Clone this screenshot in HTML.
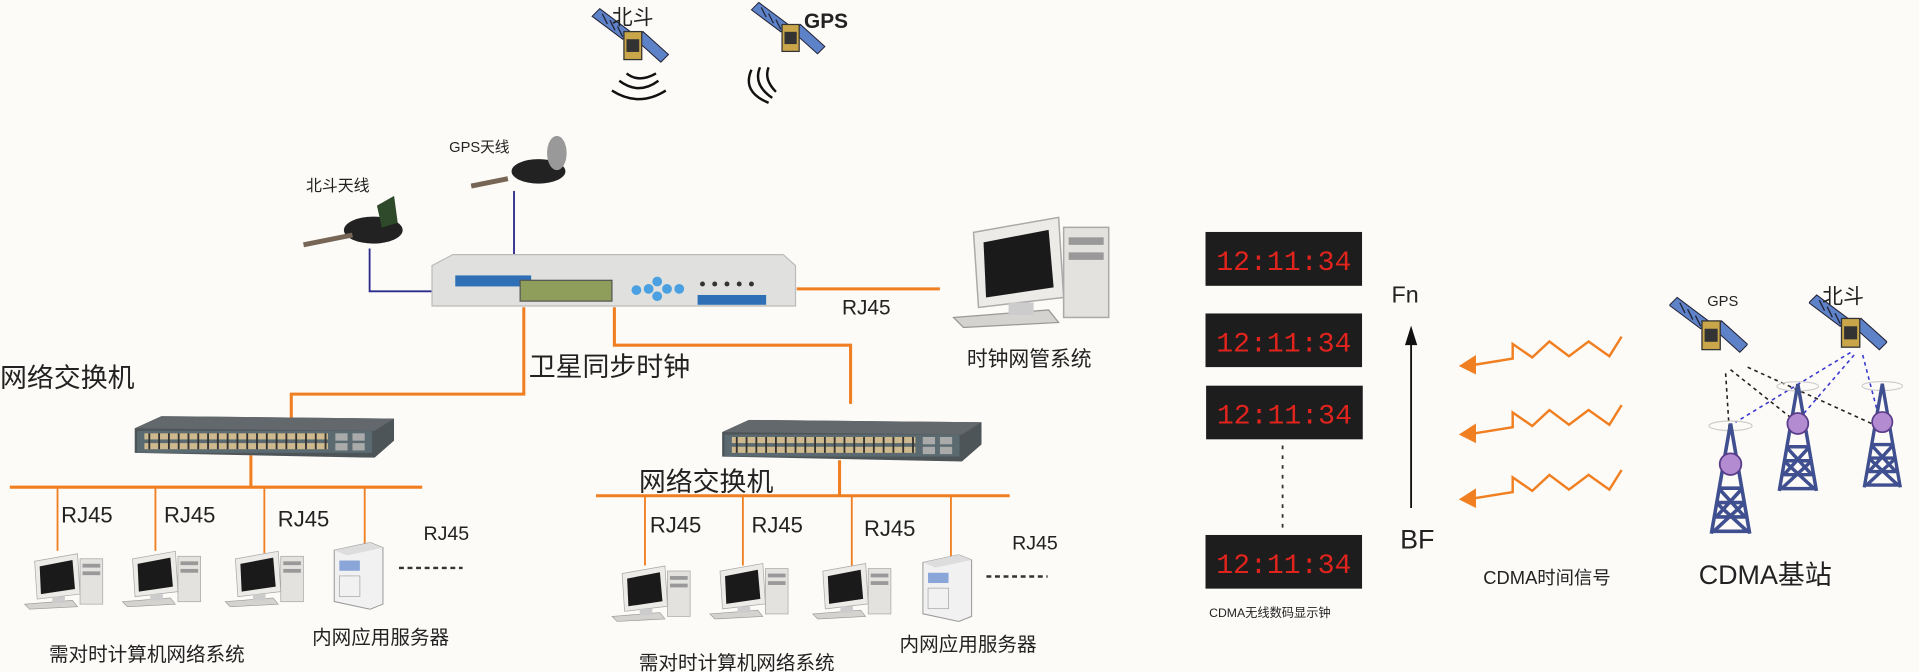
<!DOCTYPE html>
<html><head><meta charset="utf-8"><style>
html,body{margin:0;padding:0;background:#fdfbf8;}
svg{display:block;}
text{font-family:"Liberation Sans","Noto Sans CJK SC",sans-serif;fill:#222;}
</style></head><body>
<svg width="1919" height="672" viewBox="0 0 1568 549" preserveAspectRatio="none" xmlns="http://www.w3.org/2000/svg">
<defs>
<symbol id="pc" viewBox="0 0 66 46">
  <rect x="46" y="6" width="18" height="36" fill="#e4e2de" stroke="#aaa" stroke-width="0.6"/>
  <rect x="48" y="10" width="14" height="3" fill="#999"/><rect x="48" y="16" width="14" height="3" fill="#999"/>
  <polygon points="10,8 44,2 46,34 12,38" fill="#ecebe8" stroke="#aaa" stroke-width="0.6"/>
  <polygon points="14,12 40,7 42,30 15,34" fill="#1a1a1a"/>
  <polygon points="2,42 40,39 44,44 6,46" fill="#d5d3cf" stroke="#999" stroke-width="0.5"/>
  <rect x="24" y="36" width="10" height="5" fill="#ccc"/>
</symbol>
<symbol id="srv" viewBox="0 0 42 52">
  <polygon points="2,6 30,0 40,4 40,48 30,52 2,46" fill="#f1f1f1" stroke="#999" stroke-width="0.8"/>
  <polygon points="2,6 30,0 40,4 12,10" fill="#ddd"/>
  <rect x="6" y="14" width="16" height="8" fill="#8aa6d8"/>
  <rect x="6" y="26" width="16" height="16" fill="none" stroke="#aaa" stroke-width="0.6"/>
</symbol>
<symbol id="sw" viewBox="0 0 212 34">
  <polygon points="0,10 22,0 212,2 212,20 196,34 0,30" fill="#4e5558"/>
  <polygon points="0,10 22,0 212,2 196,12" fill="#62686b"/>
  <rect x="2" y="12" width="192" height="18" fill="#5a6a70"/>
  <g fill="#cdb98d">
   <rect x="8" y="14" width="150" height="5"/><rect x="8" y="22" width="150" height="5"/>
  </g>
  <g stroke="#333" stroke-width="1.5">
   <path d="M12 14v13M20 14v13M28 14v13M36 14v13M44 14v13M52 14v13M60 14v13M68 14v13M76 14v13M84 14v13M92 14v13M100 14v13M108 14v13M116 14v13M124 14v13M132 14v13M140 14v13M148 14v13M156 14v13"/>
  </g>
  <rect x="164" y="14" width="10" height="6" fill="#aaa"/><rect x="178" y="14" width="10" height="6" fill="#aaa"/>
  <rect x="164" y="22" width="10" height="6" fill="#aaa"/><rect x="178" y="22" width="10" height="6" fill="#aaa"/>
</symbol>
<symbol id="sat" viewBox="0 0 60 50">
  <polygon points="0,8 6,2 30,20 24,26" fill="#5e82c8" stroke="#223" stroke-width="0.8"/>
  <polygon points="34,26 40,20 60,38 54,44" fill="#5e82c8" stroke="#223" stroke-width="0.8"/>
  <path d="M8,6 12,14 M14,11 18,19 M20,16 24,24" stroke="#223"/>
  <rect x="25" y="20" width="14" height="22" fill="#c9a64a" stroke="#333"/>
  <rect x="27" y="26" width="10" height="10" fill="#333"/>
</symbol>
<symbol id="tower" viewBox="0 0 40 100">
  <ellipse cx="20" cy="8" rx="18" ry="4" fill="none" stroke="#ccc"/>
  <path d="M20 6 L4 98 M20 6 L36 98 M10 60 H30 M8 72 H32 M6 84 H34 M4 96 H36 M10 60 L32 84 M30 60 L8 84 M8 72 L34 96 M32 72 L6 96" stroke="#3f4f8f" stroke-width="3" fill="none"/>
  <circle cx="20" cy="40" r="9" fill="#b38bd0" stroke="#5a3d8a" stroke-width="1.5"/>
</symbol>
<symbol id="clk" viewBox="0 0 128 44">
  <rect width="128" height="44" fill="#1d1d1d"/>
  <text x="64" y="31" text-anchor="middle" font-size="23" style="fill:#e0241d;font-family:'Liberation Mono',monospace">12:11:34</text>
</symbol>
</defs>

<use href="#sat" x="483" y="5" width="64" height="52"/>
<use href="#sat" x="612" y="0" width="64" height="50"/>
<text x="500" y="20" font-size="17">北斗</text>
<text x="657" y="23" font-size="17" font-weight="bold">GPS</text>
<g fill="none" stroke="#111" stroke-width="2">
<path d="M512 60 q10 8 24 0"/><path d="M506 66 q16 12 32 0"/><path d="M500 74 q22 14 44 0"/>
<path d="M628 55 q-4 10 6 20"/><path d="M621 55 q-6 14 10 25"/><path d="M614 57 q-8 18 14 27"/>
</g>

<text x="367" y="124" font-size="12">GPS天线</text>
<text x="250" y="156" font-size="13">北斗天线</text>
<ellipse cx="440" cy="140" rx="22" ry="10" fill="#222"/>
<ellipse cx="455" cy="125" rx="8" ry="14" fill="#999"/>
<path d="M385 152 l30 -6" stroke="#765" stroke-width="4"/>
<ellipse cx="305" cy="188" rx="24" ry="11" fill="#222"/>
<polygon points="308,168 322,160 325,182 312,186" fill="#2e4a2a"/>
<path d="M248 200 l40 -8" stroke="#765" stroke-width="4"/>
<path d="M420 156 V208" stroke="#2b2b8c" stroke-width="1.5" fill="none"/>
<path d="M302 203 V238 H354" stroke="#2b2b8c" stroke-width="1.5" fill="none"/>

<polygon points="370,208 640,208 650,217 650,250 353,250 353,217" fill="#e0e1de" stroke="#bbb"/>
<rect x="372" y="225" width="62" height="9" fill="#2e6fb6"/>
<rect x="425" y="229" width="75" height="17" fill="#8f9e5a" stroke="#555"/>
<g fill="#4aa0e0"><circle cx="520" cy="237" r="4"/><circle cx="530" cy="236" r="4"/><circle cx="537" cy="230" r="4"/><circle cx="537" cy="242" r="4"/><circle cx="545" cy="236" r="4"/><circle cx="555" cy="236" r="4"/></g>
<rect x="570" y="241" width="56" height="8" fill="#2e6fb6"/>
<g fill="#333"><circle cx="574" cy="232" r="2"/><circle cx="584" cy="232" r="2"/><circle cx="594" cy="232" r="2"/><circle cx="604" cy="232" r="2"/><circle cx="614" cy="232" r="2"/></g>

<g stroke="#f07f22" stroke-width="2.5" fill="none">
<path d="M651 236 H768"/>
<path d="M428 251 V322 H238 V345"/>
<path d="M502 251 V282 H695 V330"/>
<path d="M205 372 V398"/><path d="M8 398 H345"/>
<path d="M686 376 V405"/><path d="M487 405 H825"/>
</g>
<g stroke="#f07f22" stroke-width="1.5" fill="none">
<path d="M47 398 V450M127 398 V450M216 398 V452M298 398 V445"/>
<path d="M527 405 V462M607 405 V462M696 405 V463M777 405 V456"/>
</g>

<text x="688" y="257" font-size="17">RJ45</text>
<use href="#pc" x="775" y="173" width="135" height="95"/>
<text x="790" y="299" font-size="17">时钟网管系统</text>
<text x="432" y="307" font-size="22">卫星同步时钟</text>
<text x="0" y="316" font-size="22">网络交换机</text>

<use href="#sw" x="110" y="340" width="212" height="34"/>
<use href="#sw" x="590" y="343" width="212" height="34"/>
<text x="522" y="401" font-size="22">网络交换机</text>

<g font-size="18">
<text x="50" y="427">RJ45</text><text x="134" y="427">RJ45</text><text x="227" y="430">RJ45</text><text x="346" y="441" font-size="16">RJ45</text>
<text x="531" y="435">RJ45</text><text x="614" y="435">RJ45</text><text x="706" y="438">RJ45</text><text x="827" y="449" font-size="16">RJ45</text>
</g>
<use href="#pc" x="18" y="450" width="68" height="48"/>
<use href="#pc" x="98" y="448" width="68" height="48"/>
<use href="#pc" x="182" y="448" width="68" height="48"/>
<use href="#srv" x="271" y="443" width="44" height="55"/>
<path d="M326 464 H378" stroke="#333" stroke-width="2" stroke-dasharray="4 3"/>
<use href="#pc" x="498" y="460" width="68" height="48"/>
<use href="#pc" x="578" y="458" width="68" height="48"/>
<use href="#pc" x="662" y="458" width="68" height="48"/>
<use href="#srv" x="752" y="453" width="44" height="55"/>
<path d="M806 471 H856" stroke="#333" stroke-width="2" stroke-dasharray="4 3"/>
<text x="40" y="540" font-size="16">需对时计算机网络系统</text>
<text x="255" y="526" font-size="16">内网应用服务器</text>
<text x="735" y="532" font-size="16">内网应用服务器</text>
<text x="522" y="547" font-size="16">需对时计算机网络系统</text>

<use href="#clk" x="985" y="189" width="128" height="45"/>
<use href="#clk" x="985" y="256" width="128" height="44"/>
<use href="#clk" x="985" y="315" width="129" height="44"/>
<use href="#clk" x="985" y="437" width="128" height="44"/>
<path d="M1048 364 V432" stroke="#333" stroke-width="1.5" stroke-dasharray="3 5"/>
<text x="988" y="504" font-size="10">CDMA无线数码显示钟</text>
<path d="M1153 415 V280" stroke="#111" stroke-width="1.5"/>
<polygon points="1148,282 1158,282 1153,266" fill="#111"/>
<text x="1137" y="247" font-size="19">Fn</text>
<text x="1144" y="448" font-size="22">BF</text>
<g stroke="#f07f22" stroke-width="2" fill="none">
<path d="M1205 298 L1236 293 L1236 281 L1252 292 L1266 279 L1282 291 L1298 279 L1315 291 L1325 275"/>
<path d="M1205 354 L1236 349 L1236 337 L1252 348 L1266 335 L1282 347 L1298 335 L1315 347 L1325 331"/>
<path d="M1205 407 L1236 402 L1236 390 L1252 401 L1266 388 L1282 400 L1298 388 L1315 400 L1325 384"/>
</g>
<g fill="#f07f22">
<polygon points="1192,299 1206,290 1206,306"/><polygon points="1192,355 1206,346 1206,362"/><polygon points="1192,408 1206,399 1206,415"/>
</g>
<text x="1212" y="477" font-size="15">CDMA时间信号</text>
<text x="1388" y="477" font-size="22">CDMA基站</text>

<use href="#sat" x="1364" y="240" width="64" height="55"/>
<use href="#sat" x="1478" y="238" width="64" height="55"/>
<text x="1395" y="250" font-size="12">GPS</text>
<text x="1489" y="248" font-size="17">北斗</text>
<g stroke="#222" stroke-width="1.3" stroke-dasharray="3 3" fill="none">
<path d="M1410 305 L1413 352"/><path d="M1414 302 L1468 345"/><path d="M1428 300 L1538 350"/>
</g>
<g stroke="#3a3ad0" stroke-width="1.3" stroke-dasharray="3 3" fill="none">
<path d="M1512 288 L1418 345"/><path d="M1515 290 L1472 340"/><path d="M1522 290 L1535 340"/>
</g>
<use href="#tower" x="1393" y="340" width="42" height="98"/>
<use href="#tower" x="1448" y="308" width="42" height="95"/>
<use href="#tower" x="1518" y="308" width="40" height="92"/>
</svg>
</body></html>
